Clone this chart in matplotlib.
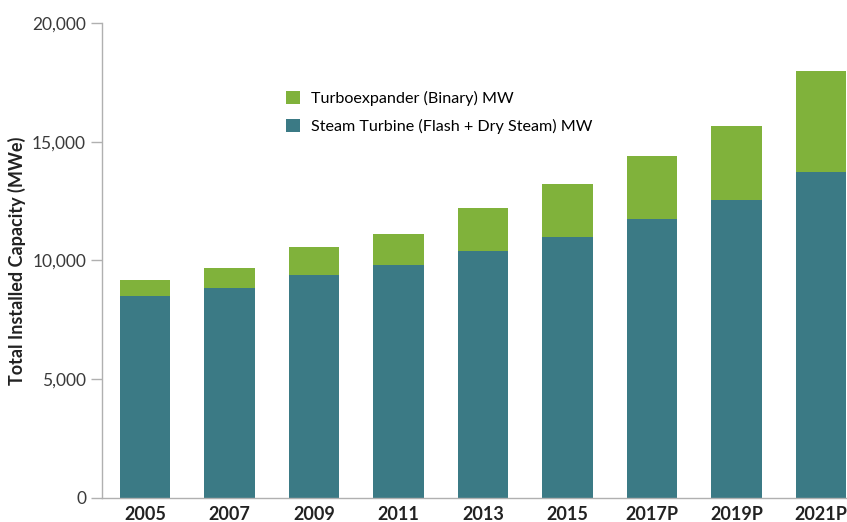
import matplotlib.pyplot as plt
import numpy as np

# Installed capacity by technology (MWe)
years = ['2005', '2007', '2009', '2011', '2013', '2015', '2017P', '2019P', '2021P']
steam = [8510, 8840, 9370, 9800, 10410, 10980, 11740, 12540, 13730]
binary = [680, 840, 1190, 1330, 1820, 2250, 2640, 3140, 4250]

green = '#80b23b'
teal = '#3b7a85'

plt.rcParams['font.family'] = ['Lato', 'DejaVu Sans']

fig = plt.figure(figsize=(8.47, 5.22), dpi=100)
ax = fig.add_axes([0.1204, 0.046, 0.88, 0.910])

x = np.arange(len(years))
ax.bar(x, steam, width=0.6, color=teal, label='Steam Turbine (Flash + Dry Steam) MW')
ax.bar(x, binary, width=0.6, bottom=steam, color=green, label='Turboexpander (Binary) MW')

ax.set_xlim(-0.51, 8.31)
ax.set_ylim(0, 20000)
ax.set_yticks([0, 5000, 10000, 15000, 20000])
ax.set_yticklabels(['0', '5,000', '10,000', '15,000', '20,000'])
ax.set_xticks(x)
ax.set_xticklabels(years, fontweight='bold')

for s in ['top', 'right']:
    ax.spines[s].set_visible(False)
for s in ['left', 'bottom']:
    ax.spines[s].set_color('#b0b0b0')
    ax.spines[s].set_linewidth(1)
ax.tick_params(axis='y', colors='#b0b0b0', labelcolor='#3a3a3a', labelsize=12.5, length=8, width=1)
ax.tick_params(axis='x', length=0, labelsize=13, labelcolor='#222222', pad=6)
ax.set_ylabel('Total Installed Capacity (MWe)', fontsize=13, fontweight='bold', color='#222222', labelpad=4)

handles, labels = ax.get_legend_handles_labels()
ax.legend(handles[::-1], labels[::-1], loc='upper left', bbox_to_anchor=(0.228, 0.887),
          frameon=False, fontsize=11.6, handlelength=0.85, handleheight=0.85,
          handletextpad=0.7, labelspacing=0.8)

fig.savefig('out.png', dpi=100)
